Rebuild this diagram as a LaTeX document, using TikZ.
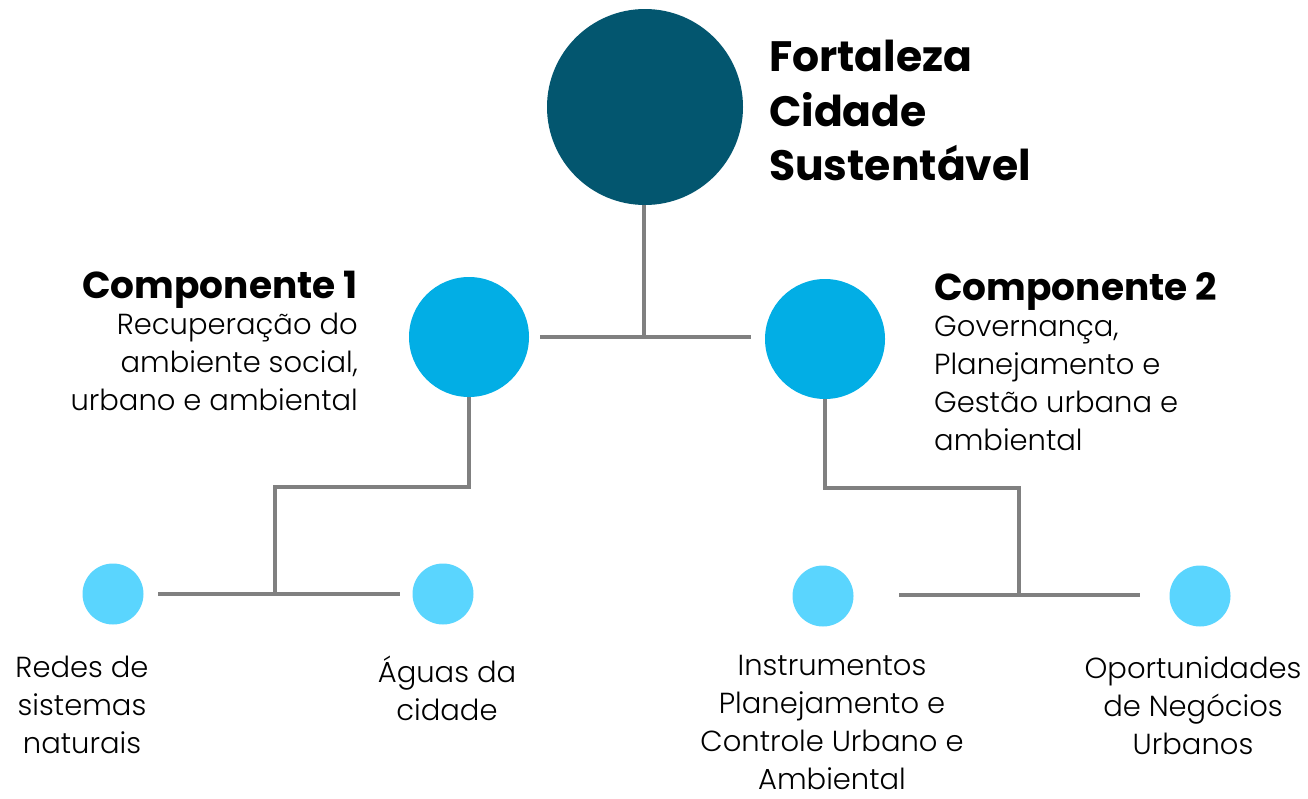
\documentclass[tikz,border=0pt]{standalone}
\usepackage{fontspec}
\setmainfont{Poppins}
\newfontfamily\lightf{Poppins Light}
\newfontfamily\boldf{Poppins Bold}
\definecolor{dark}{HTML}{03566F}
\definecolor{mid}{HTML}{02AEE5}
\definecolor{light}{HTML}{5AD5FE}
\definecolor{linec}{HTML}{808080}
\tikzset{
  bigc/.style={circle,fill=dark,minimum size=196pt,inner sep=0},
  midc/.style={circle,fill=mid,minimum size=120pt,inner sep=0},
  smallc/.style={circle,fill=light,minimum size=61pt,inner sep=0},
  conn/.style={draw=linec,line width=3.5pt},
  title/.style={font={\boldf\fontsize{42.5}{54.5}\selectfont},align=left,inner sep=0},
  head/.style={font={\boldf\fontsize{37.5}{38}\selectfont},inner sep=0},
  body/.style={font={\lightf\fontsize{29}{38}\selectfont},inner sep=0},
}
\begin{document}
\begin{tikzpicture}[x=1pt,y=-1pt]
\useasboundingbox (0,0) rectangle (1308,798);
\node[bigc] (root) at (645,107) {};
\node[midc] (c1) at (469,337) {};
\node[midc] (c2) at (825,339) {};
\node[smallc] (l1) at (113,594) {};
\node[smallc] (l2) at (443,594) {};
\node[smallc] (l3) at (823,596) {};
\node[smallc] (l4) at (1200,596) {};
\coordinate (j0) at (644,337);
\coordinate (h0a) at (540,337);
\coordinate (h0b) at (751,337);
\coordinate (j1) at (275,487);
\coordinate (k1) at (275,594);
\coordinate (h1a) at (158,594);
\coordinate (h1b) at (400,594);
\coordinate (j2) at (1019,488);
\coordinate (k2) at (1019,595);
\coordinate (h2a) at (899,595);
\coordinate (h2b) at (1140,595);
\draw[conn] (root.south -| j0) -- (j0);
\draw[conn] (h0a) -- (h0b);
\draw[conn] (c1.south) -- (c1.south |- j1) -- (j1) -- (k1);
\draw[conn] (h1a) -- (h1b);
\draw[conn] (c2.south) -- (c2.south |- j2) -- (j2) -- (k2);
\draw[conn] (h2a) -- (h2b);
\node[title,anchor=north west] (t0) at (769,40) {Fortaleza\\Cidade\\Sustentável};
\node[head,anchor=base east] (h1) at (358,298) {Componente 1};
\node[body,anchor=north east,align=right] (b1) at (358,313) {Recuperação do\\ambiente social,\\urbano e ambiental};
\node[head,anchor=base west] (h2) at (934,300) {Componente 2};
\node[body,anchor=north west,align=left] (b2) at (934,316) {Governança,\\Planejamento e\\Gestão urbana e\\ambiental};
\node[body,anchor=north,align=center] (t1) at (82,656) {Redes de\\sistemas\\naturais};
\node[body,anchor=north,align=center] (t2) at (447,656) {Águas da\\cidade};
\node[body,anchor=north,align=center] (t3) at (832,655) {Instrumentos\\Planejamento e\\Controle Urbano e\\Ambiental};
\node[body,anchor=north,align=center] (t4) at (1193,656) {Oportunidades\\de Negócios\\Urbanos};
\end{tikzpicture}
\end{document}
